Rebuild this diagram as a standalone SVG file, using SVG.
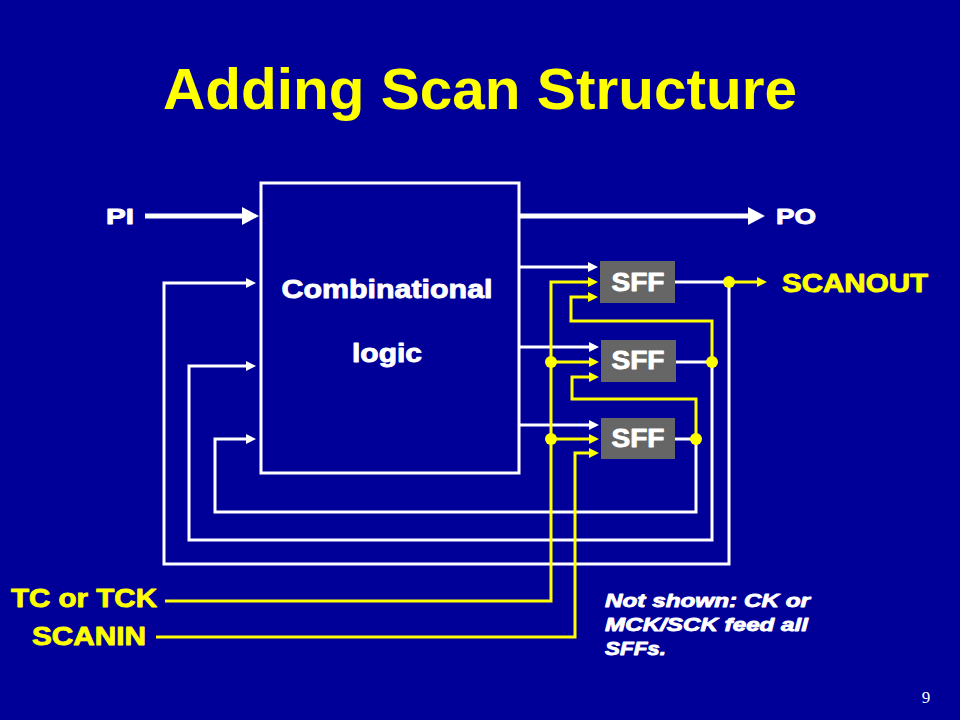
<svg xmlns="http://www.w3.org/2000/svg" width="960" height="720" viewBox="0 0 960 720">
<defs>
<style>
.t{font-family:"Liberation Sans",Arial,sans-serif;font-weight:bold}
.h{stroke-width:0.9;stroke-linejoin:round}
.y{fill:#FFFF00}
.w{fill:#FFFFFF}
.h.y{stroke:#FFFF00}
.h.w{stroke:#FFFFFF}
.lw{fill:none;stroke:#FFFFFF;stroke-width:3}
.ly{fill:none;stroke:#FFFF00;stroke-width:3}
.sff{fill:#666666}
.dot{fill:#FFFF00}
</style>
<marker id="aw" markerUnits="userSpaceOnUse" markerWidth="10" markerHeight="10" refX="6" refY="5" orient="auto"><path d="M0,0 L10,5 L0,10 z" fill="#FFFFFF"/></marker>
<marker id="ay" markerUnits="userSpaceOnUse" markerWidth="10" markerHeight="10" refX="6" refY="5" orient="auto"><path d="M0,0 L10,5 L0,10 z" fill="#FFFF00"/></marker>
<marker id="ab" markerUnits="userSpaceOnUse" markerWidth="18" markerHeight="18" refX="7" refY="9" orient="auto"><path d="M0,0 L17,9 L0,18 z" fill="#FFFFFF"/></marker>
</defs>
<rect x="0" y="0" width="960" height="720" fill="#000099"/>
<text class="t y" x="480" y="109" font-size="58" text-anchor="middle" textLength="634" lengthAdjust="spacingAndGlyphs">Adding Scan Structure</text>

<g id="comb">
<rect x="261" y="183" width="258" height="290" class="lw"/>
<text class="t w h" x="387" y="298" font-size="26" text-anchor="middle" textLength="211" lengthAdjust="spacingAndGlyphs">Combinational</text>
<text class="t w h" x="387" y="362" font-size="26" text-anchor="middle" textLength="70" lengthAdjust="spacingAndGlyphs">logic</text>
</g>
<g id="sff1"><rect x="600" y="261" width="75" height="42" class="sff"/><text class="t w h" x="638" y="291" font-size="26" text-anchor="middle" textLength="53" lengthAdjust="spacingAndGlyphs">SFF</text></g>
<g id="sff2"><rect x="601" y="340" width="75" height="42" class="sff"/><text class="t w h" x="638" y="369" font-size="26" text-anchor="middle" textLength="53" lengthAdjust="spacingAndGlyphs">SFF</text></g>
<g id="sff3"><rect x="601" y="418" width="74" height="41" class="sff"/><text class="t w h" x="638" y="447" font-size="26" text-anchor="middle" textLength="53" lengthAdjust="spacingAndGlyphs">SFF</text></g>

<g id="labels">
<text class="t w h" x="106" y="224" font-size="22" textLength="28" lengthAdjust="spacingAndGlyphs">PI</text>
<text class="t w h" x="776" y="224" font-size="22" textLength="40" lengthAdjust="spacingAndGlyphs">PO</text>
<text class="t y h" x="782" y="292" font-size="26" textLength="146" lengthAdjust="spacingAndGlyphs">SCANOUT</text>
<text class="t y h" x="11" y="607" font-size="26" textLength="146" lengthAdjust="spacingAndGlyphs">TC or TCK</text>
<text class="t y h" x="32" y="645" font-size="26" textLength="114" lengthAdjust="spacingAndGlyphs">SCANIN</text>
<g font-style="italic">
<text class="t w h" x="605" y="607" font-size="19" textLength="205" lengthAdjust="spacingAndGlyphs">Not shown: CK or</text>
<text class="t w h" x="605" y="631" font-size="19" textLength="203" lengthAdjust="spacingAndGlyphs">MCK/SCK feed all</text>
<text class="t w h" x="605" y="655" font-size="19" textLength="61" lengthAdjust="spacingAndGlyphs">SFFs.</text>
</g>
<text x="926" y="703" font-family="Liberation Serif,serif" font-size="17" fill="#FFFFFF" text-anchor="middle">9</text>
</g>

<g id="connectors">
<path d="M145,216 H249" stroke="#FFFFFF" stroke-width="5" fill="none" marker-end="url(#ab)"/>
<path d="M520,216 H755" stroke="#FFFFFF" stroke-width="5" fill="none" marker-end="url(#ab)"/>
<path class="lw" d="M520,267 H594" marker-end="url(#aw)"/>
<path class="lw" d="M520,347 H595" marker-end="url(#aw)"/>
<path class="lw" d="M520,425 H595" marker-end="url(#aw)"/>
<path class="lw" d="M675,282 H729 V564 H164 V283 H252" marker-end="url(#aw)"/>
<path class="lw" d="M676,362 H712 V540 H189 V366 H252" marker-end="url(#aw)"/>
<path class="lw" d="M675,439 H696 V512 H215 V439 H252" marker-end="url(#aw)"/>
<path class="ly" d="M165,601 H551 V282 H594" marker-end="url(#ay)"/>
<path class="ly" d="M551,362 H595" marker-end="url(#ay)"/>
<path class="ly" d="M551,439 H595" marker-end="url(#ay)"/>
<path class="ly" d="M156,637 H575 V453 H595" marker-end="url(#ay)"/>
<path class="ly" d="M696,439 V399 H572 V377 H595" marker-end="url(#ay)"/>
<path class="ly" d="M712,362 V321 H571 V297 H594" marker-end="url(#ay)"/>
<path class="ly" d="M729,282 H763" marker-end="url(#ay)"/>
<circle class="dot" cx="551" cy="362" r="6"/>
<circle class="dot" cx="551" cy="439" r="6"/>
<circle class="dot" cx="696" cy="439" r="6"/>
<circle class="dot" cx="712" cy="362" r="6"/>
<circle class="dot" cx="729" cy="282" r="6"/>
</g>
</svg>
